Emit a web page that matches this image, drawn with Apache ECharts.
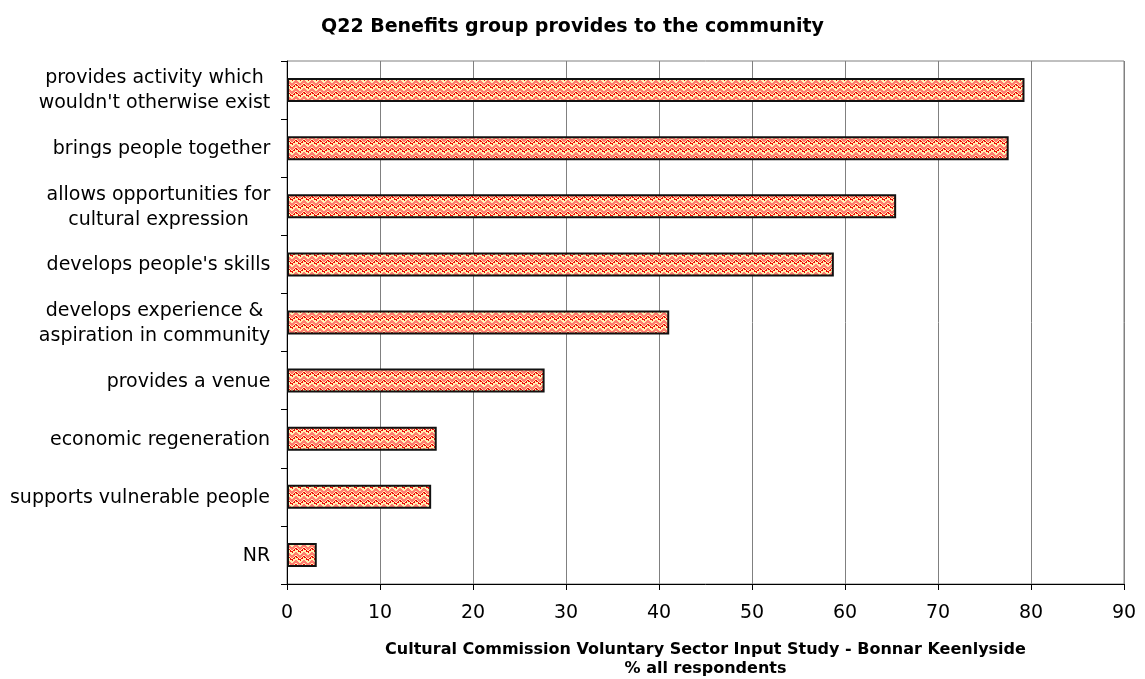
<!DOCTYPE html>
<html>
<head>
<meta charset="utf-8">
<title>Q22 Benefits group provides to the community</title>
<script src="https://cdn.jsdelivr.net/npm/echarts@6/dist/echarts.min.js"></script>
<style>
  html, body { margin: 0; padding: 0; background: #ffffff; }
  #chart { width: 1145px; height: 679px; }
</style>
</head>
<body>
<div id="chart"></div>
<script>
// Benefit categories, top to bottom
const categories = [
  "provides activity which\nwouldn't otherwise exist",
  "brings people together",
  "allows opportunities for\ncultural expression",
  "develops people's skills",
  "develops experience &\naspiration in community",
  "provides a venue",
  "economic regeneration",
  "supports vulnerable people",
  "NR"
];
// % of all respondents
const percentValues = [79.3, 77.6, 65.5, 58.8, 41.1, 27.7, 16.1, 15.5, 3.2];
const xTicks = [0, 10, 20, 30, 40, 50, 60, 70, 80, 90];

const font = '"DejaVu Sans", Verdana, sans-serif';
const labelSize = 19;

// Zigzag fill texture for the bars
function makeZigzag() {
  const c = document.createElement('canvas');
  c.width = 8; c.height = 8;
  const ctx = c.getContext('2d');
  ctx.fillStyle = '#fff0b4';
  ctx.fillRect(0, 0, 8, 8);
  const zig = [0, 1, 2, 3, 3, 2, 1, 0];
  for (let x = 0; x < 8; x++) {
    const y = zig[x];
    ctx.fillStyle = '#ff7c70';
    ctx.fillRect(x, y % 8, 1, 1);
    ctx.fillRect(x, (y + 1) % 8, 1, 1);
    ctx.fillRect(x, (y + 2) % 8, 1, 1);
    ctx.fillStyle = '#f00808';
    ctx.fillRect(x, (y + 4) % 8, 1, 1);
    if (x % 2 === 0) ctx.fillRect(x, (y + 5) % 8, 1, 1);
  }
  return c;
}

// Multi-line category labels: block right-aligned to the axis, lines centred within it
const measureCtx = document.createElement('canvas').getContext('2d');
measureCtx.font = labelSize + 'px ' + font;
const rich = {};
categories.forEach((cat, i) => {
  const w = Math.max(...cat.split('\n').map(s => measureCtx.measureText(s).width));
  rich['c' + i] = {
    width: Math.ceil(w) + 1,
    align: 'center',
    fontFamily: font,
    fontSize: labelSize,
    color: '#000',
    lineHeight: 25
  };
});

const chart = echarts.init(document.getElementById('chart'), null, { renderer: 'canvas' });

chart.setOption({
  animation: false,
  backgroundColor: '#ffffff',
  title: {
    text: 'Q22 Benefits group provides to the community',
    left: 'center',
    top: 13,
    textStyle: { fontFamily: font, fontSize: 19, fontWeight: 'bold', color: '#000' }
  },
  grid: {
    left: 287, right: 21, top: 61, bottom: 95,
    outerBoundsMode: 'none',
    containLabel: false,
    show: true, borderColor: '#808080', borderWidth: 1, backgroundColor: 'transparent'
  },
  xAxis: {
    type: 'value',
    min: xTicks[0],
    max: xTicks[xTicks.length - 1],
    interval: 10,
    name: 'Cultural Commission Voluntary Sector Input Study - Bonnar Keenlyside\n% all respondents',
    nameLocation: 'middle',
    nameGap: 56,
    nameTextStyle: { fontFamily: font, fontSize: 16, fontWeight: 'bold', color: '#000', lineHeight: 19 },
    axisLine: { show: true, lineStyle: { color: '#000', width: 1 } },
    axisTick: { show: true, length: 6, lineStyle: { color: '#000' } },
    axisLabel: { fontFamily: font, fontSize: 19, color: '#000', margin: 20 },
    splitLine: { show: true, lineStyle: { color: '#808080', width: 1 } }
  },
  yAxis: {
    type: 'category',
    data: categories,
    inverse: true,
    axisLine: { show: true, lineStyle: { color: '#000', width: 1 } },
    axisTick: { show: true, length: 6, lineStyle: { color: '#000' } },
    axisLabel: {
      margin: 16,
      align: 'right',
      fontFamily: font,
      fontSize: labelSize,
      color: '#000',
      lineHeight: 25,
      padding: [2, 0, 0, 0],
      formatter: (value, idx) => value.split('\n').map(s => '{c' + idx + '|' + s + '}').join('\n'),
      rich: rich
    },
    splitLine: { show: false }
  },
  series: [{
    type: 'bar',
    data: percentValues,
    barWidth: 24,
    itemStyle: {
      color: { image: makeZigzag(), repeat: 'repeat' },
      borderColor: '#111',
      borderWidth: 2
    }
  }]
});
</script>
</body>
</html>
